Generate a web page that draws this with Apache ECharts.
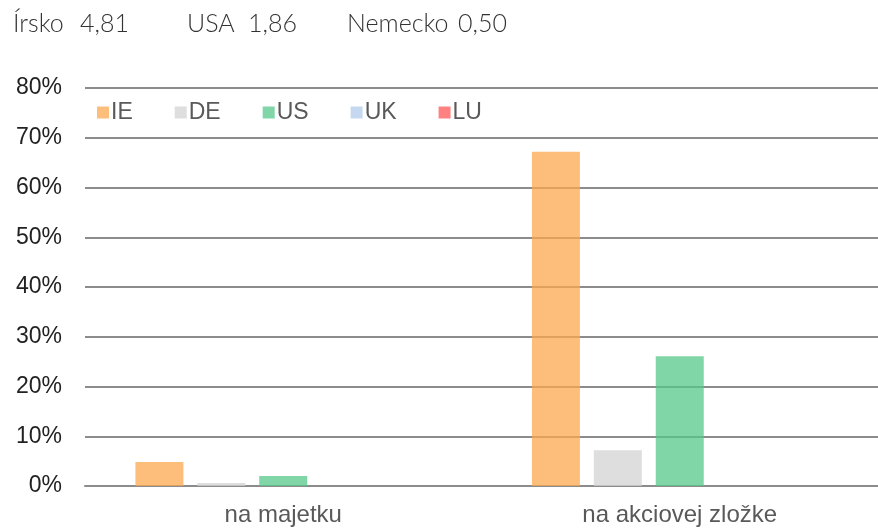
<!DOCTYPE html>
<html>
<head>
<meta charset="utf-8">
<script src="https://cdn.jsdelivr.net/npm/echarts@6/dist/echarts.min.js"></script>
<style>
    html, body { margin: 0; padding: 0; background: #fff; }
    #chart { width: 878px; height: 529px; }
</style>
</head>
<body>
<div id="chart"></div>
<script>
var categories = ['na majetku', 'na akciovej zložke'];
var seriesNames = ['IE', 'DE', 'US', 'UK', 'LU'];
var ieValues = [4.8, 67.2];
var deValues = [0.6, 7.2];
var usValues = [2.0, 26.1];
var ukValues = [0, 0];
var luValues = [0, 0];
var headerItems = [['Írsko', '4,81'], ['USA', '1,86'], ['Nemecko', '0,50']];

var colors = ['#fca84f', '#d3d3d3', '#56c888', '#b2cbeb', '#ff5555'];
var allValues = [ieValues, deValues, usValues, ukValues, luValues];

var headerX = [[13, 80], [187, 248], [347, 458]];
var graphics = [];
headerItems.forEach(function (h, i) {
    graphics.push({ type: 'text', left: headerX[i][0], top: 11,
        style: { text: h[0], fontSize: 25, fontFamily: 'Lato', fontWeight: 300, fill: '#333' } });
    graphics.push({ type: 'text', left: headerX[i][1], top: 11,
        style: { text: h[1], fontSize: 25, fontFamily: 'Lato', fontWeight: 300, fill: '#333' } });
});

var chart = echarts.init(document.getElementById('chart'));
chart.setOption({
    animation: false,
    color: colors,
    textStyle: { fontFamily: 'Liberation Sans' },
    graphic: graphics,
    legend: {
        data: seriesNames,
        left: 92,
        top: 96,
        itemWidth: 12,
        itemHeight: 12,
        itemGap: 42,
        icon: 'rect',
        textStyle: { fontSize: 23, color: '#595959', padding: [0, 0, 0, -3] }
    },
    grid: { left: 85, right: 0, top: 88, bottom: 43 },
    xAxis: {
        type: 'category',
        data: categories,
        axisLine: { lineStyle: { color: '#8c8c8c', width: 2 } },
        axisTick: { show: false },
        axisLabel: { fontSize: 24, color: '#595959', margin: 17 }
    },
    yAxis: {
        type: 'value',
        min: 0,
        max: 80,
        interval: 10,
        axisLine: { show: false },
        axisTick: { show: false },
        axisLabel: { fontSize: 23, color: '#222', margin: 23, formatter: '{value}%' },
        splitLine: { lineStyle: { color: '#8c8c8c', width: 2 } }
    },
    series: seriesNames.map(function (name, i) {
        return {
            name: name,
            type: 'bar',
            data: allValues[i],
            barWidth: 48,
            barGap: '29%',
            itemStyle: { color: colors[i], opacity: 0.75 },
            z: 3
        };
    })
});
</script>
</body>
</html>
